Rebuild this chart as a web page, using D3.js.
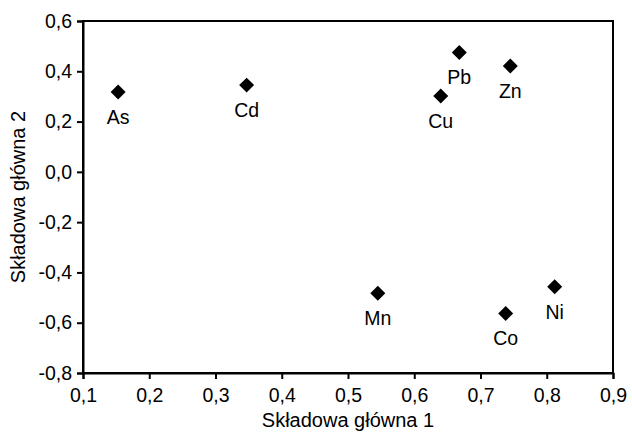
<!DOCTYPE html>
<html>
<head>
<meta charset="utf-8">
<script src="https://cdn.jsdelivr.net/npm/d3@7"></script>
<style>
    body { margin: 0; background: #fff; }
    text { font-family: Arial, "Liberation Sans", sans-serif; fill: #000; }
</style>
</head>
<body>
<svg id="chart"></svg>
<script>
let elements = ["As", "Cd", "Cu", "Pb", "Zn", "Mn", "Co", "Ni"];
let pc1 = [0.153, 0.347, 0.640, 0.668, 0.745, 0.545, 0.738, 0.812];
let pc2 = [0.318, 0.345, 0.302, 0.475, 0.421, -0.483, -0.563, -0.457];

let xTicks = [0.1, 0.2, 0.3, 0.4, 0.5, 0.6, 0.7, 0.8, 0.9];
let yTicks = [0.6, 0.4, 0.2, 0.0, -0.2, -0.4, -0.6, -0.8];

let margin = {top: 21, right: 19, bottom: 64, left: 83},
    width = 632 - margin.left - margin.right,
    height = 437 - margin.top - margin.bottom;

let fmt = function (d) {
    return d3.format(".1f")(d).replace(".", ",").replace("−", "-");
};

let root = d3.select("#chart")
    .attr("width", 632)
    .attr("height", 437);

let svg = root.append("g")
    .attr("transform", "translate(" + margin.left + "," + margin.top + ")");

let x = d3.scaleLinear().domain([0.1, 0.9]).range([0, width]);
let y = d3.scaleLinear().domain([-0.8, 0.6]).range([height, 0]);

// frame
svg.append("rect")
    .attr("width", width)
    .attr("height", height)
    .attr("fill", "none")
    .attr("stroke", "#000")
    .attr("stroke-width", 2);

// axes
let xAxis = svg.append("g")
    .attr("transform", "translate(0," + height + ")")
    .call(d3.axisBottom(x).tickValues(xTicks).tickFormat(fmt).tickSizeOuter(0).tickSize(6).tickPadding(9));
let yAxis = svg.append("g")
    .call(d3.axisLeft(y).tickValues(yTicks).tickFormat(fmt).tickSizeOuter(0).tickSize(6).tickPadding(5));

[xAxis, yAxis].forEach(function (a) {
    a.select(".domain").attr("stroke-width", 2);
    a.selectAll(".tick line").attr("stroke-width", 2);
    a.selectAll(".tick text")
        .style("font-size", "19.5px")
        .attr("font-family", null);
});

// axis titles
root.append("text")
    .attr("x", margin.left + width / 2)
    .attr("y", 427)
    .style("text-anchor", "middle")
    .style("font-size", "20px")
    .text("Składowa główna 1");

root.append("text")
    .attr("transform", "translate(25," + (margin.top + height / 2) + ") rotate(-90)")
    .style("text-anchor", "middle")
    .style("font-size", "20px")
    .text("Składowa główna 2");

// points
let points = elements.map(function (e, i) {
    return {name: e, x: pc1[i], y: pc2[i]};
});

svg.selectAll(".pt")
    .data(points)
    .enter()
    .append("path")
    .attr("class", "pt")
    .attr("d", d3.symbol(d3.symbolSquare, 112))
    .attr("transform", function (d) {
        return "translate(" + x(d.x) + "," + y(d.y) + ") rotate(45)";
    })
    .attr("fill", "#000");

svg.selectAll(".lbl")
    .data(points)
    .enter()
    .append("text")
    .attr("class", "lbl")
    .attr("x", function (d) { return x(d.x); })
    .attr("y", function (d) { return y(d.y) + 32; })
    .style("text-anchor", "middle")
    .style("font-size", "19.5px")
    .text(function (d) { return d.name; });
</script>
</body>
</html>
